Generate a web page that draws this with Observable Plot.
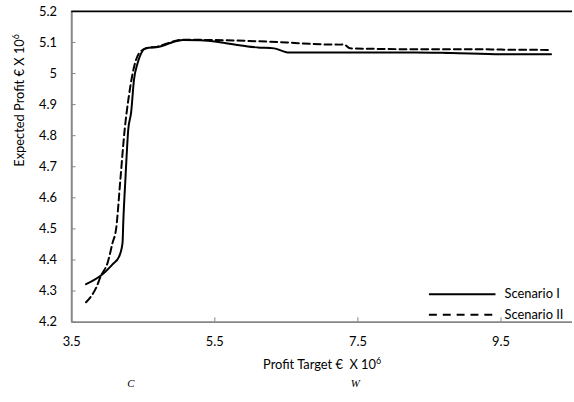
<!DOCTYPE html>
<html>
<head>
<meta charset="utf-8">
<script src="https://cdn.jsdelivr.net/npm/d3@7"></script>
<script src="https://cdn.jsdelivr.net/npm/@observablehq/plot@0.6"></script>
<style>
  html, body { margin: 0; padding: 0; background: #fff; overflow: hidden; width: 574px; height: 402px; }
  #chart svg { display: block; }
</style>
</head>
<body>
<div id="chart"></div>
<script>
// Profit target (x, € ×10^6) and expected profit (y, € ×10^6)
const scenario1X = [3.70, 3.93, 4.07, 4.16, 4.21, 4.22, 4.25, 4.29, 4.33, 4.37, 4.42, 4.47, 4.53, 4.72, 4.90, 5.05, 5.30, 5.59, 5.82, 5.96, 6.10, 6.33, 6.45, 6.52, 7.00, 7.50, 8.30, 8.80, 9.50, 10.20];
const scenario1Y = [4.322, 4.354, 4.386, 4.410, 4.455, 4.520, 4.660, 4.820, 4.875, 4.980, 5.033, 5.065, 5.081, 5.086, 5.100, 5.108, 5.107, 5.100, 5.092, 5.087, 5.084, 5.081, 5.072, 5.068, 5.068, 5.068, 5.068, 5.066, 5.062, 5.062];
const scenario2X = [3.70, 3.84, 3.91, 4.00, 4.07, 4.12, 4.18, 4.24, 4.30, 4.37, 4.44, 4.53, 4.72, 4.90, 5.05, 5.40, 5.96, 6.50, 6.88, 7.25, 7.30, 7.39, 8.50, 9.20, 9.50, 10.20];
const scenario2Y = [4.264, 4.310, 4.350, 4.390, 4.455, 4.500, 4.660, 4.820, 4.930, 5.020, 5.065, 5.080, 5.088, 5.102, 5.109, 5.108, 5.105, 5.100, 5.095, 5.093, 5.094, 5.081, 5.078, 5.078, 5.077, 5.076];
const seriesNames = ["Scenario I", "Scenario II"];
const xTicks = [3.5, 5.5, 7.5, 9.5];
const yTicks = [4.2, 4.3, 4.4, 4.5, 4.6, 4.7, 4.8, 4.9, 5.0, 5.1, 5.2];
const xTitle = "Profit Target €  X 10⁶";
const yTitle = "Expected Profit € X 10⁶";

const s1 = scenario1X.map((x, i) => ({x, y: scenario1Y[i]}));
const s2 = scenario2X.map((x, i) => ({x, y: scenario2Y[i]}));
const axisGrey = "#868686";

const chart = Plot.plot({
  width: 580,
  height: 402,
  marginLeft: 72,
  marginRight: 2,
  marginTop: 11,
  marginBottom: 77,
  x: {domain: [3.5, 10.5]},
  y: {domain: [4.2, 5.2]},
  style: {fontFamily: "Lato, 'Open Sans', sans-serif", fontSize: "13px", color: "#000", background: "#fff"},
  marks: [
    Plot.axisY(yTicks, {tickSize: 0, tickPadding: 15, label: null, tickFormat: d => String(+d.toFixed(1)), fontSize: 13}),
    Plot.axisX(xTicks, {tickSize: 0, tickPadding: 15, label: null, tickFormat: d => d.toFixed(1), fontSize: 13}),
    Plot.ruleY(yTicks.slice(0, -1), {y: d => d, x1: 3.5, x2: 3.56, stroke: axisGrey, strokeWidth: 1}),
    Plot.ruleX(xTicks.slice(1), {x: d => d, y1: 4.2, y2: 4.214, stroke: axisGrey, strokeWidth: 1}),
    Plot.ruleX([3.5], {stroke: axisGrey, strokeWidth: 2}),
    Plot.ruleY([4.2], {stroke: axisGrey, strokeWidth: 2}),
    Plot.ruleY([5.2], {stroke: "#000", strokeWidth: 2}),
    Plot.line(s1, {x: "x", y: "y", stroke: "#000", strokeWidth: 2, curve: "monotone-x"}),
    Plot.line(s2, {x: "x", y: "y", stroke: "#000", strokeWidth: 2, strokeDasharray: "7,4", curve: "monotone-x"}),
    // legend
    Plot.ruleY([4.29], {x1: 8.5, x2: 9.43, stroke: "#000", strokeWidth: 2}),
    Plot.ruleY([4.224], {x1: 8.5, x2: 9.43, stroke: "#000", strokeWidth: 2, strokeDasharray: "8,6"}),
    Plot.text([seriesNames[0]], {x: 9.55, y: 4.29, text: d => d, textAnchor: "start", fontSize: 13}),
    Plot.text([seriesNames[1]], {x: 9.55, y: 4.224, text: d => d, textAnchor: "start", fontSize: 13}),
    // axis titles
    Plot.text([yTitle], {frameAnchor: "left", dx: -52, rotate: -90, text: d => d, fontSize: 13}),
    Plot.text([xTitle], {frameAnchor: "bottom", dy: 47, text: d => d, fontSize: 13}),
    // clipped fragments of the text below the figure
    Plot.text(["C"], {frameAnchor: "bottom-left", dx: 56, dy: 66, text: d => d, fontStyle: "italic", fontFamily: "'Liberation Serif', serif", fontSize: 11}),
    Plot.text(["W"], {frameAnchor: "bottom-left", dx: 282, dy: 66, text: d => d, fontStyle: "italic", fontFamily: "'Liberation Serif', serif", fontSize: 11})
  ]
});
// render the superscript 6 as a raised small digit
chart.querySelectorAll("text").forEach(t => {
  if (t.textContent.includes("⁶") && t.children.length === 0) {
    const base = t.textContent.replace("⁶", "");
    t.textContent = base;
    const sup = document.createElementNS("http://www.w3.org/2000/svg", "tspan");
    sup.setAttribute("dy", "-5");
    sup.setAttribute("font-size", "9");
    sup.textContent = "6";
    t.appendChild(sup);
  }
});
document.getElementById("chart").appendChild(chart);
</script>
</body>
</html>
